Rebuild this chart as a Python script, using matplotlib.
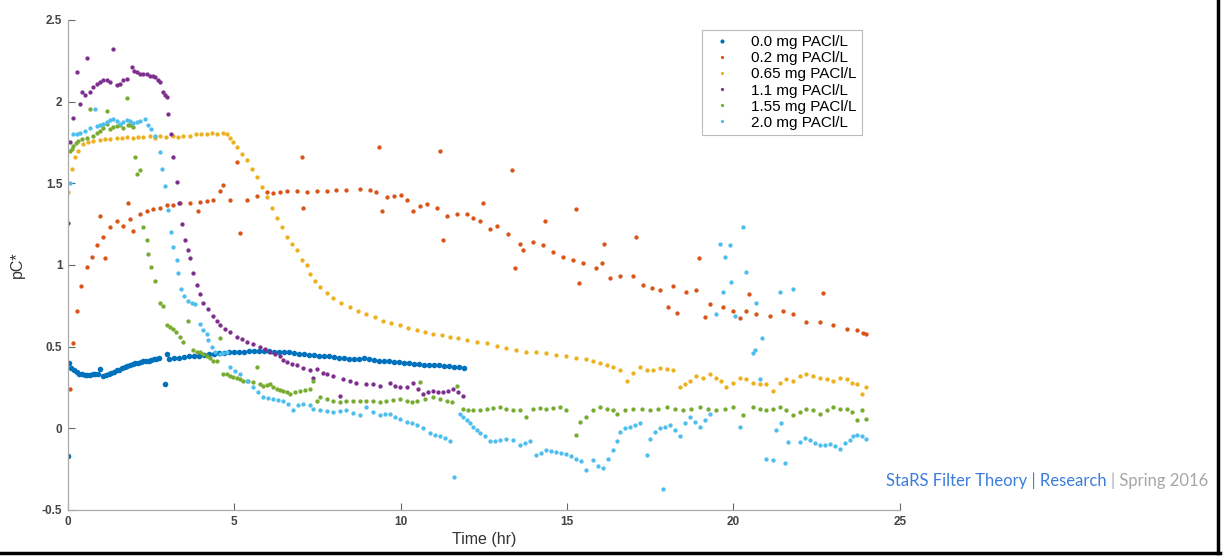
import numpy as np
import matplotlib.pyplot as plt
from matplotlib.lines import Line2D

# pC* readings taken off the original chart (time in hours)
t_00 = [0.0, 0.03, 0.1, 0.18, 0.26, 0.34, 0.42, 0.5, 0.58, 0.66,
        0.74, 0.82, 0.9, 0.96, 1.06, 1.14, 1.22, 1.3, 1.38, 1.46,
        1.54, 1.62, 1.7, 1.78, 1.86, 1.94, 2.02, 2.1, 2.18, 2.26,
        2.34, 2.42, 2.5, 2.58, 2.66, 2.74, 2.91, 2.97, 3.05, 3.2,
        3.35, 3.5, 3.65, 3.8, 3.95, 4.1, 4.25, 4.4, 4.55, 4.7,
        4.85, 5.0, 5.15, 5.3, 5.45, 5.6, 5.75, 5.9, 6.05, 6.2,
        6.35, 6.5, 6.65, 6.8, 6.95, 7.1, 7.25, 7.4, 7.55, 7.7,
        7.85, 8.0, 8.15, 8.3, 8.45, 8.6, 8.75, 8.9, 9.05, 9.2,
        9.35, 9.5, 9.65, 9.8, 9.95, 10.1, 10.25, 10.4, 10.55, 10.7,
        10.85, 11.0, 11.15, 11.3, 11.45, 11.6, 11.75, 11.9]
pc_00 = [-0.17, 0.40, 0.37, 0.355, 0.345, 0.335, 0.33, 0.325, 0.325, 0.325,
         0.33, 0.33, 0.335, 0.365, 0.32, 0.325, 0.335, 0.34, 0.345, 0.355,
         0.36, 0.37, 0.375, 0.38, 0.39, 0.395, 0.40, 0.40, 0.405, 0.41,
         0.415, 0.415, 0.42, 0.425, 0.425, 0.43, 0.27, 0.455, 0.425, 0.43,
         0.43, 0.435, 0.44, 0.44, 0.445, 0.45, 0.455, 0.455, 0.46, 0.46,
         0.465, 0.465, 0.47, 0.47, 0.475, 0.475, 0.475, 0.475, 0.475, 0.47,
         0.47, 0.465, 0.465, 0.46, 0.455, 0.455, 0.45, 0.45, 0.445, 0.44,
         0.44, 0.435, 0.43, 0.43, 0.425, 0.425, 0.425, 0.43, 0.425, 0.42,
         0.415, 0.415, 0.41, 0.405, 0.405, 0.40, 0.40, 0.395, 0.395, 0.39,
         0.39, 0.385, 0.385, 0.38, 0.38, 0.375, 0.375, 0.37]

t_02 = [0.06, 0.16, 0.26, 0.4, 0.56, 0.71, 0.86, 0.96, 1.06, 1.11,
        1.26, 1.46, 1.66, 1.81, 1.86, 1.96, 2.16, 2.36, 2.56, 2.76,
        2.97, 3.17, 3.37, 3.67, 3.92, 3.97, 4.17, 4.37, 4.57, 4.67,
        4.87, 5.07, 5.17, 5.37, 5.67, 5.97, 6.17, 6.37, 6.57, 6.87,
        7.02, 7.07, 7.17, 7.47, 7.77, 8.07, 8.37, 8.77, 9.07, 9.27,
        9.35, 9.43, 9.58, 9.8, 10.0, 10.2, 10.38, 10.58, 10.78, 11.08,
        11.18, 11.28, 11.38, 11.68, 11.98, 12.18, 12.38, 12.48, 12.68, 12.88,
        13.23, 13.35, 13.43, 13.58, 13.68, 13.98, 14.28, 14.35, 14.58, 14.88,
        15.18, 15.28, 15.36, 15.48, 15.88, 16.04, 16.1, 16.29, 16.59, 16.99,
        17.08, 17.29, 17.54, 17.79, 18.04, 18.19, 18.29, 18.59, 18.89, 18.96,
        19.14, 19.29, 19.69, 19.99, 20.19, 20.39, 20.46, 20.69, 21.1, 21.49,
        21.79, 22.19, 22.6, 22.7, 23.0, 23.4, 23.7, 23.9, 24.0]
pc_02 = [0.24, 0.52, 0.72, 0.87, 0.99, 1.05, 1.12, 1.30, 1.17, 1.04,
         1.23, 1.27, 1.24, 1.38, 1.28, 1.21, 1.31, 1.33, 1.34, 1.35,
         1.37, 1.37, 1.38, 1.38, 1.33, 1.385, 1.39, 1.40, 1.45, 1.49,
         1.40, 1.63, 1.195, 1.395, 1.425, 1.445, 1.44, 1.445, 1.45, 1.455,
         1.66, 1.35, 1.445, 1.45, 1.455, 1.46, 1.46, 1.466, 1.46, 1.445,
         1.72, 1.33, 1.415, 1.42, 1.43, 1.40, 1.33, 1.36, 1.375, 1.35,
         1.70, 1.15, 1.30, 1.31, 1.31, 1.29, 1.27, 1.38, 1.22, 1.24,
         1.19, 1.58, 0.98, 1.13, 1.09, 1.14, 1.12, 1.27, 1.08, 1.05,
         1.03, 1.34, 0.89, 1.01, 0.98, 1.01, 1.13, 0.92, 0.935, 0.935,
         1.17, 0.875, 0.86, 0.845, 0.74, 0.87, 0.705, 0.835, 0.845, 1.04,
         0.68, 0.76, 0.74, 0.72, 0.675, 0.72, 0.82, 0.70, 0.69, 0.72,
         0.70, 0.65, 0.65, 0.83, 0.63, 0.61, 0.60, 0.585, 0.58]

t_065 = [0.01, 0.11, 0.21, 0.31, 0.46, 0.61, 0.76, 0.96, 1.11, 1.26,
         1.46, 1.61, 1.76, 1.96, 2.11, 2.26, 2.46, 2.61, 2.76, 2.96,
         3.16, 3.31, 3.46, 3.66, 3.86, 4.01, 4.17, 4.32, 4.47, 4.67,
         4.77, 4.87, 4.97, 5.07, 5.22, 5.37, 5.52, 5.67, 5.82, 5.97,
         6.12, 6.27, 6.42, 6.57, 6.72, 6.87, 7.02, 7.17, 7.27, 7.42,
         7.57, 7.77, 7.97, 8.22, 8.47, 8.72, 8.97, 9.22, 9.47, 9.72,
         9.98, 10.23, 10.48, 10.73, 10.98, 11.23, 11.48, 11.73, 11.98, 12.28,
         12.58, 12.88, 13.18, 13.48, 13.78, 14.08, 14.38, 14.68, 14.98, 15.28,
         15.58, 15.78, 15.99, 16.19, 16.39, 16.59, 16.79, 16.99, 17.19, 17.39,
         17.59, 17.79, 17.99, 18.19, 18.39, 18.54, 18.69, 18.89, 19.09, 19.29,
         19.49, 19.64, 19.79, 19.99, 20.19, 20.39, 20.59, 20.79, 20.99, 21.19,
         21.39, 21.59, 21.79, 21.99, 22.19, 22.39, 22.6, 22.8, 23.0, 23.2,
         23.4, 23.55, 23.7, 23.85, 24.0]
pc_065 = [1.445, 1.59, 1.66, 1.70, 1.74, 1.75, 1.76, 1.765, 1.77, 1.77,
          1.775, 1.78, 1.785, 1.78, 1.785, 1.785, 1.79, 1.78, 1.79, 1.785,
          1.79, 1.785, 1.79, 1.79, 1.80, 1.80, 1.805, 1.81, 1.80, 1.81,
          1.80, 1.78, 1.75, 1.72, 1.68, 1.64, 1.59, 1.54, 1.48, 1.415,
          1.35, 1.29, 1.23, 1.17, 1.13, 1.09, 1.03, 1.00, 0.945, 0.90,
          0.865, 0.83, 0.80, 0.77, 0.74, 0.72, 0.70, 0.68, 0.66, 0.645,
          0.63, 0.615, 0.60, 0.59, 0.58, 0.57, 0.56, 0.55, 0.54, 0.53,
          0.52, 0.505, 0.49, 0.48, 0.47, 0.465, 0.46, 0.45, 0.44, 0.43,
          0.425, 0.41, 0.40, 0.39, 0.375, 0.36, 0.29, 0.34, 0.375, 0.36,
          0.355, 0.37, 0.365, 0.36, 0.25, 0.27, 0.29, 0.32, 0.31, 0.33,
          0.31, 0.29, 0.25, 0.28, 0.31, 0.30, 0.28, 0.27, 0.27, 0.23,
          0.28, 0.30, 0.29, 0.32, 0.33, 0.32, 0.31, 0.30, 0.29, 0.31,
          0.30, 0.28, 0.27, 0.21, 0.25]

t_11 = [0.0, 0.06, 0.16, 0.26, 0.36, 0.41, 0.5, 0.58, 0.66, 0.76,
        0.86, 0.96, 1.06, 1.16, 1.26, 1.34, 1.46, 1.56, 1.66, 1.76,
        1.91, 1.98, 2.06, 2.16, 2.26, 2.36, 2.46, 2.56, 2.61, 2.71,
        2.76, 2.86, 2.92, 2.97, 3.01, 3.11, 3.16, 3.27, 3.35, 3.42,
        3.52, 3.6, 3.67, 3.77, 3.87, 3.97, 4.07, 4.22, 4.37, 4.47,
        4.57, 4.72, 4.87, 5.07, 5.22, 5.37, 5.57, 5.77, 5.92, 6.07,
        6.22, 6.37, 6.47, 6.57, 6.72, 6.87, 7.07, 7.27, 7.37, 7.47,
        7.67, 7.77, 7.97, 8.17, 8.27, 8.47, 8.67, 8.97, 9.17, 9.37,
        9.68, 9.83, 9.98, 10.18, 10.38, 10.53, 10.68, 10.83, 10.98, 11.13,
        11.28, 11.43, 11.58, 11.73, 11.88]
pc_11 = [1.26, 1.75, 1.90, 2.18, 1.985, 2.06, 2.04, 2.27, 2.06, 2.09,
         2.11, 2.12, 2.13, 2.13, 2.12, 2.32, 2.10, 2.11, 2.13, 2.14,
         2.21, 2.19, 2.18, 2.17, 2.17, 2.17, 2.16, 2.155, 2.15, 2.13,
         2.12, 2.06, 2.04, 2.03, 1.925, 1.80, 1.66, 1.51, 1.38, 1.25,
         1.15, 1.09, 1.04, 0.95, 0.88, 0.82, 0.77, 0.73, 0.69, 0.66,
         0.63, 0.61, 0.59, 0.56, 0.545, 0.53, 0.515, 0.50, 0.485, 0.47,
         0.455, 0.44, 0.42, 0.405, 0.395, 0.385, 0.37, 0.355, 0.31, 0.365,
         0.34, 0.335, 0.32, 0.20, 0.30, 0.29, 0.28, 0.27, 0.27, 0.26,
         0.28, 0.26, 0.25, 0.25, 0.28, 0.24, 0.21, 0.22, 0.23, 0.22,
         0.22, 0.23, 0.24, 0.22, 0.20]

t_155 = [0.06, 0.11, 0.16, 0.23, 0.31, 0.41, 0.56, 0.66, 0.76, 0.86,
         0.96, 1.06, 1.16, 1.18, 1.26, 1.36, 1.46, 1.56, 1.66, 1.76,
         1.81, 1.86, 1.96, 2.01, 2.06, 2.16, 2.26, 2.36, 2.41, 2.51,
         2.61, 2.76, 2.86, 2.97, 3.06, 3.16, 3.26, 3.37, 3.47, 3.62,
         3.77, 3.87, 3.97, 4.07, 4.17, 4.27, 4.37, 4.47, 4.57, 4.67,
         4.77, 4.87, 4.97, 5.07, 5.17, 5.27, 5.42, 5.57, 5.67, 5.77,
         5.87, 5.97, 6.07, 6.17, 6.27, 6.37, 6.47, 6.57, 6.67, 6.82,
         6.97, 7.12, 7.27, 7.37, 7.47, 7.57, 7.77, 7.97, 8.17, 8.37,
         8.57, 8.77, 8.97, 9.17, 9.37, 9.57, 9.77, 9.98, 10.18, 10.33,
         10.48, 10.58, 10.73, 10.98, 11.18, 11.38, 11.53, 11.68, 11.88, 12.03,
         12.18, 12.38, 12.58, 12.78, 12.98, 13.18, 13.38, 13.58, 13.78, 13.98,
         14.18, 14.38, 14.58, 14.78, 14.98, 15.28, 15.38, 15.58, 15.78, 15.99,
         16.19, 16.39, 16.49, 16.74, 16.99, 17.24, 17.49, 17.74, 17.99, 18.24,
         18.49, 18.74, 18.99, 19.24, 19.49, 19.74, 19.99, 20.29, 20.59, 20.79,
         20.99, 21.19, 21.39, 21.59, 21.79, 21.99, 22.19, 22.39, 22.6, 22.8,
         23.0, 23.2, 23.4, 23.55, 23.7, 23.85, 24.0]
pc_155 = [1.70, 1.71, 1.73, 1.745, 1.76, 1.77, 1.78, 1.955, 1.79, 1.81,
          1.82, 1.84, 1.865, 1.945, 1.83, 1.845, 1.85, 1.855, 1.84, 2.02,
          1.855, 1.86, 1.845, 1.66, 1.56, 1.58, 1.23, 1.15, 1.07, 0.99,
          0.90, 0.77, 0.75, 0.63, 0.62, 0.61, 0.59, 0.56, 0.53, 0.66,
          0.48, 0.47, 0.465, 0.455, 0.44, 0.43, 0.415, 0.41, 0.55, 0.33,
          0.33, 0.32, 0.315, 0.31, 0.30, 0.29, 0.29, 0.285, 0.375, 0.27,
          0.26, 0.265, 0.27, 0.25, 0.24, 0.235, 0.23, 0.22, 0.21, 0.22,
          0.23, 0.235, 0.24, 0.29, 0.17, 0.19, 0.18, 0.17, 0.16, 0.165,
          0.17, 0.17, 0.165, 0.17, 0.16, 0.17, 0.175, 0.18, 0.17, 0.16,
          0.17, 0.285, 0.18, 0.19, 0.18, 0.17, 0.16, 0.26, 0.12, 0.115,
          0.11, 0.115, 0.12, 0.125, 0.13, 0.12, 0.11, 0.115, 0.07, 0.12,
          0.125, 0.12, 0.125, 0.13, 0.11, -0.04, 0.04, 0.07, 0.11, 0.13,
          0.12, 0.11, 0.09, 0.11, 0.12, 0.12, 0.11, 0.12, 0.13, 0.12,
          0.11, 0.12, 0.13, 0.12, 0.11, 0.12, 0.13, 0.08, 0.13, 0.12,
          0.11, 0.12, 0.13, 0.11, 0.08, 0.10, 0.12, 0.11, 0.09, 0.11,
          0.13, 0.12, 0.12, 0.10, 0.05, 0.11, 0.06]

t_20 = [0.06, 0.16, 0.26, 0.36, 0.51, 0.66, 0.81, 0.86, 0.96, 1.06,
        1.16, 1.26, 1.36, 1.46, 1.56, 1.66, 1.76, 1.86, 1.96, 2.06,
        2.16, 2.31, 2.41, 2.51, 2.61, 2.76, 2.84, 2.91, 3.01, 3.11,
        3.16, 3.27, 3.3, 3.4, 3.5, 3.62, 3.72, 3.82, 3.97, 4.07,
        4.17, 4.22, 4.32, 4.42, 4.57, 4.67, 4.77, 4.87, 5.02, 5.17,
        5.37, 5.57, 5.72, 5.87, 6.02, 6.17, 6.32, 6.47, 6.62, 6.77,
        6.92, 7.07, 7.27, 7.37, 7.57, 7.77, 7.97, 8.17, 8.37, 8.57,
        8.77, 8.97, 9.17, 9.37, 9.52, 9.68, 9.83, 9.98, 10.18, 10.33,
        10.48, 10.68, 10.88, 11.03, 11.18, 11.33, 11.48, 11.61, 11.78, 11.88,
        11.98, 12.08, 12.18, 12.28, 12.38, 12.53, 12.68, 12.83, 12.98, 13.18,
        13.38, 13.58, 13.73, 13.88, 14.08, 14.23, 14.38, 14.53, 14.68, 14.83,
        14.98, 15.13, 15.28, 15.43, 15.58, 15.78, 15.93, 16.09, 16.24, 16.39,
        16.49, 16.59, 16.74, 16.89, 17.04, 17.19, 17.39, 17.49, 17.64, 17.79,
        17.89, 17.94, 18.09, 18.24, 18.39, 18.54, 18.69, 18.84, 18.99, 19.14,
        19.29, 19.49, 19.59, 19.69, 19.74, 19.89, 19.94, 20.04, 20.19, 20.29,
        20.39, 20.59, 20.64, 20.69, 20.79, 20.86, 20.99, 21.19, 21.29, 21.39,
        21.44, 21.54, 21.64, 21.79, 21.99, 22.14, 22.3, 22.45, 22.6, 22.75,
        22.9, 23.05, 23.2, 23.35, 23.5, 23.6, 23.7, 23.85, 24.0]
pc_20 = [1.50, 1.80, 1.805, 1.81, 1.82, 1.84, 1.955, 1.85, 1.855, 1.865,
         1.875, 1.885, 1.895, 1.88, 1.865, 1.875, 1.885, 1.88, 1.87, 1.875,
         1.88, 1.895, 1.855, 1.83, 1.79, 1.69, 1.59, 1.485, 1.335, 1.20,
         1.11, 1.03, 0.95, 0.85, 0.81, 0.78, 0.77, 0.76, 0.64, 0.60,
         0.58, 0.54, 0.50, 0.47, 0.455, 0.46, 0.465, 0.375, 0.35, 0.335,
         0.29, 0.25, 0.22, 0.19, 0.185, 0.18, 0.175, 0.17, 0.15, 0.11,
         0.14, 0.15, 0.14, 0.12, 0.11, 0.105, 0.10, 0.105, 0.11, 0.095,
         0.08, 0.13, 0.10, 0.08, 0.09, 0.09, 0.07, 0.06, 0.04, 0.03,
         0.02, 0.0, -0.03, -0.04, -0.05, -0.06, -0.08, -0.30, 0.09, 0.07,
         0.05, 0.03, 0.01, -0.01, -0.03, -0.05, -0.08, -0.075, -0.07, -0.065,
         -0.07, -0.10, -0.09, -0.08, -0.165, -0.15, -0.135, -0.14, -0.145, -0.15,
         -0.155, -0.17, -0.185, -0.20, -0.255, -0.195, -0.23, -0.245, -0.19, -0.135,
         -0.08, -0.02, 0.0, 0.01, 0.02, 0.03, -0.165, -0.065, -0.02, 0.0,
         -0.37, 0.01, 0.02, -0.01, -0.05, 0.03, 0.07, 0.04, 0.01, 0.05,
         0.09, 0.70, 1.13, 0.835, 1.05, 1.12, 0.895, 0.69, 0.01, 1.23,
         0.96, 0.46, 0.48, 0.77, 0.30, 0.55, -0.185, -0.195, -0.01, 0.835,
         0.03, -0.21, -0.085, 0.855, -0.085, -0.06, -0.07, -0.09, -0.105, -0.10,
         -0.095, -0.11, -0.125, -0.09, -0.07, -0.05, -0.04, -0.05, -0.065]

labels = ['0.0 mg PACl/L', '0.2 mg PACl/L', '0.65 mg PACl/L',
          '1.1 mg PACl/L', '1.55 mg PACl/L', '2.0 mg PACl/L']
colors = ['#0072BD', '#D95319', '#EDB120', '#7E2F8E', '#77AC30', '#4DBEEE']

series = [(t_00, pc_00), (t_02, pc_02), (t_065, pc_065),
          (t_11, pc_11), (t_155, pc_155), (t_20, pc_20)]

plt.rcParams['font.family'] = ['Liberation Sans', 'DejaVu Sans']

fig = plt.figure(figsize=(12.25, 5.6), dpi=100)
ax = fig.add_axes([0.0555, 0.0893, 0.679, 0.875])

for i, (t, v) in enumerate(series):
    ms = 4.0 if i == 0 else 3.1
    ax.plot(np.array(t), np.array(v), 'o', ms=ms, mew=0, color=colors[i], label=labels[i])

ax.set_xlim(0, 25)
ax.set_ylim(-0.5, 2.5)
ax.set_xticks([0, 5, 10, 15, 20, 25])
ax.set_yticks([-0.5, 0, 0.5, 1, 1.5, 2, 2.5])
ax.set_yticklabels(['-0.5', '0', '0.5', '1', '1.5', '2', '2.5'])
ax.tick_params(direction='in', length=5, width=0.8, colors='#666666',
               labelsize=8.5, labelcolor='#444444', pad=4)
for lab in ax.get_xticklabels() + ax.get_yticklabels():
    lab.set_fontweight('bold')
for side in ['top', 'right']:
    ax.spines[side].set_visible(False)
for side in ['left', 'bottom']:
    ax.spines[side].set_color('#aaaaaa')
    ax.spines[side].set_linewidth(0.9)

ax.set_xlabel('Time (hr)', fontsize=11.5, color='#333333', labelpad=3)
ax.set_ylabel('pC*', fontsize=11.5, color='#333333', labelpad=12)

leg = ax.legend(loc='upper left', bbox_to_anchor=(0.762, 0.98), fontsize=11,
                frameon=True, fancybox=False, markerscale=0.75, handletextpad=0.9,
                borderpad=0.35, labelspacing=0.14, handlelength=2.0,
                borderaxespad=0)
leg.get_frame().set_edgecolor('#aaaaaa')
leg.get_frame().set_linewidth(0.8)

# footer tag
fig.canvas.draw()
tag = fig.text(0.7235, 0.133, 'StaRS Filter Theory | Research', color='#3b7ddd',
               fontsize=12, family=['Lato', 'DejaVu Sans'], va='baseline')
bb = tag.get_window_extent(renderer=fig.canvas.get_renderer())
fig.text(bb.x1 / fig.bbox.width + 0.003, 0.133, '| Spring 2016', color='#a6a6a6',
         fontsize=12, family=['Lato', 'DejaVu Sans'], va='baseline')

# slide frame lines
fig.add_artist(Line2D([0.9945, 0.9945], [0.012, 1.0], transform=fig.transFigure,
                      color='black', lw=2.5))
fig.add_artist(Line2D([0.0, 0.9957], [0.0125, 0.0125], transform=fig.transFigure,
                      color='black', lw=2.5))

fig.savefig('out.png', dpi=100)
